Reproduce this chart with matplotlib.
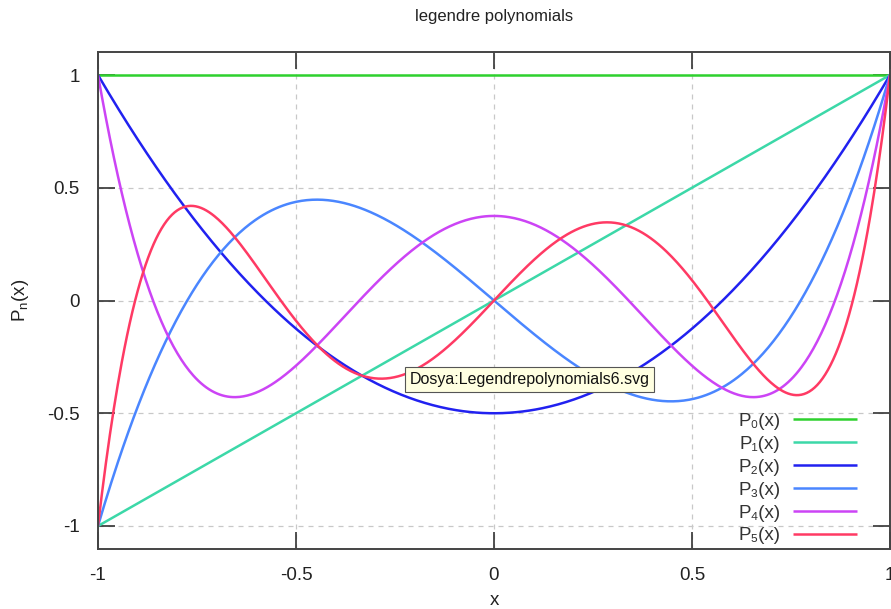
import numpy as np
import matplotlib
matplotlib.use('Agg')
import matplotlib.pyplot as plt
from numpy.polynomial import polynomial as P

# Legendre polynomial coefficients (lowest power first)
p0_coef = [1.0]
p1_coef = [0.0, 1.0]
p2_coef = [-0.5, 0.0, 1.5]
p3_coef = [0.0, -1.5, 0.0, 2.5]
p4_coef = [0.375, 0.0, -3.75, 0.0, 4.375]
p5_coef = [0.0, 1.875, 0.0, -8.75, 0.0, 7.875]

labels = ['P\u2080(x)', 'P\u2081(x)', 'P\u2082(x)', 'P\u2083(x)', 'P\u2084(x)', 'P\u2085(x)']
colors = ['#2ed12e', '#3cd8a8', '#2121f0', '#4a86ff', '#cc44f5', '#ff3a64']

x_ticks = [-1, -0.5, 0, 0.5, 1]
x_tick_labels = ['-1', '-0.5', '0', '0.5', '1']
y_ticks = [-1, -0.5, 0, 0.5, 1]
y_tick_labels = ['-1', '-0.5', '0', '0.5', '1']

plt.rcParams['font.family'] = ['Liberation Sans', 'DejaVu Sans']

fig = plt.figure(figsize=(8.91, 6.09), dpi=100)
ax = fig.add_axes([98 / 891, 60 / 609, 792 / 891, 497 / 609])

x = np.linspace(-1, 1, 600)
for coef, lab, col in zip([p0_coef, p1_coef, p2_coef, p3_coef, p4_coef, p5_coef], labels, colors):
    ax.plot(x, P.polyval(x, coef), color=col, lw=1.8, label=lab, solid_capstyle='butt')

ax.set_xlim(-1, 1)
ax.set_ylim(-1.102, 1.102)
ax.set_xticks(x_ticks)
ax.set_xticklabels(x_tick_labels)
ax.set_yticks(y_ticks)
ax.set_yticklabels(y_tick_labels)
ax.tick_params(direction='in', length=12, width=1.2, color='#333333',
               labelsize=13.5, labelcolor='#222222', top=True, right=True, pad=13)
ax.grid(True, color='#c8c8c8', linestyle=(0, (4, 4)), lw=0.9)
for s in ax.spines.values():
    s.set_color('#444444')
    s.set_linewidth(1.4)

ax.set_title('legendre polynomials', fontsize=12, color='#222222', pad=22)
ax.set_xlabel('x', fontsize=13.5, color='#222222', labelpad=6)
ax.set_ylabel('P$_\\mathregular{n}$(x)', fontsize=13.5, color='#222222', labelpad=12)

leg = ax.legend(loc='lower right', frameon=False, markerfirst=False, fontsize=13.5,
                handlelength=3.4, handletextpad=0.7, labelspacing=0.31, borderaxespad=0.0,
                bbox_to_anchor=(0.968, -0.006))
for t in leg.get_texts():
    t.set_color('#333333')

# tooltip from the screenshot
ax.text(-0.213, -0.35, 'Dosya:Legendrepolynomials6.svg', fontsize=11.5, color='#111111',
        ha='left', va='center', zorder=10,
        bbox=dict(boxstyle='square,pad=0.3', facecolor='#ffffe1', edgecolor='#555555', lw=0.8))

fig.savefig('out.png', dpi=100)
